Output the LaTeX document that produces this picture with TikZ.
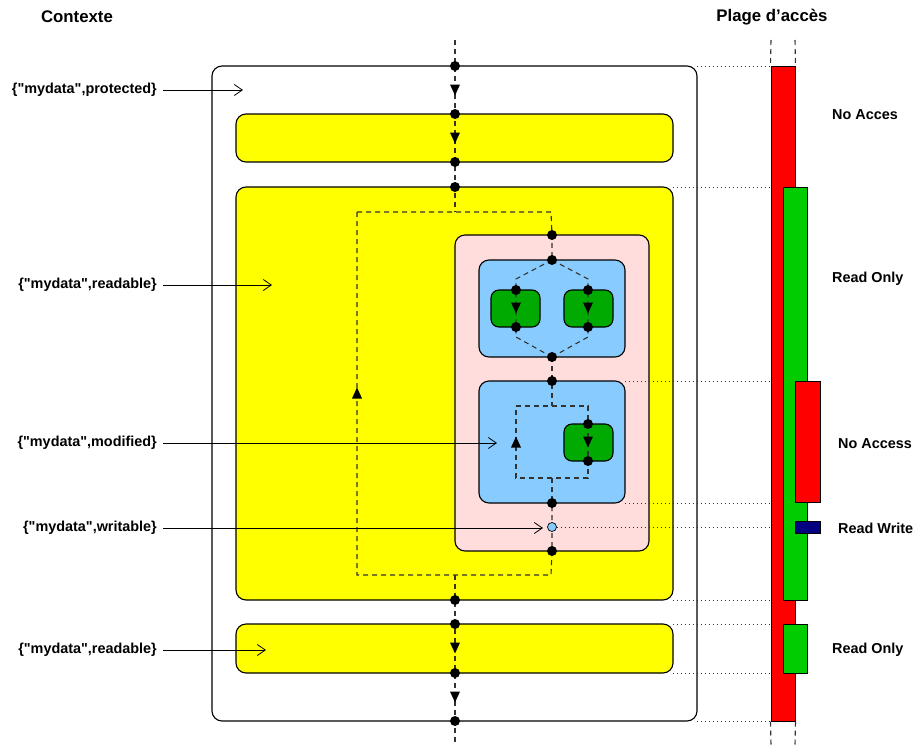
\documentclass[tikz,border=0pt]{standalone}
\usepackage{fontspec}
\setmainfont{Liberation Sans}[Ligatures=TeXOff]
\usetikzlibrary{arrows.meta}
\pgfdeclarelayer{bg}
\pgfdeclarelayer{mid}
\pgfsetlayers{bg,mid,main}
\definecolor{yel}{HTML}{FFFF00}
\definecolor{redbar}{HTML}{FF0000}
\definecolor{pinkbg}{HTML}{FFDDDD}
\definecolor{bluebg}{HTML}{88CCFF}
\definecolor{greenbox}{HTML}{00AA00}
\definecolor{greenbar}{HTML}{00CC00}
\definecolor{navybar}{HTML}{000080}
\begin{document}
\begin{tikzpicture}[x=1pt,y=-1pt,
 box/.style={draw=black, line width=1.1pt, rounded corners=10pt, inner sep=0pt},
 dot/.style={circle, fill=black, inner sep=0pt, minimum size=10pt},
 flow/.style={draw=black!80, dash pattern=on 5pt off 4pt, line width=1.1pt},
 guide/.style={draw=black!80, line width=0.8pt, dash pattern=on 0.8pt off 3.2pt},
 lbl/.style={font=\bfseries\fontsize{14.4}{17}\selectfont, inner sep=0pt},
 ttl/.style={font=\bfseries\fontsize{16.8}{20}\selectfont, inner sep=0pt},
 ptr/.style={draw=black, line width=0.8pt, -{Straight Barb[length=8pt,width=11pt]}},
 bar/.style={draw=black, line width=1pt, inner sep=0pt},
 tri/.pic={\fill[black] (-5,-5.5) -- (5,-5.5) -- (0,5.5) -- cycle;}
]
\useasboundingbox (0,0) rectangle (916,745);

% titles
\node[ttl] (tctx) at (77,17) {Contexte};
\node[ttl] (tplg) at (772,17) {Plage d’accès};

% boxes
\begin{pgfonlayer}{bg}
\node[box, minimum width=485pt, minimum height=655pt] (outer) at (454.5,393.5) {};
\node[box, fill=yel, minimum width=437pt, minimum height=48pt] (ytop) at (454.5,138) {};
\node[box, fill=yel, minimum width=437pt, minimum height=413pt] (ybig) at (454.5,393.5) {};
\node[box, fill=yel, minimum width=437pt, minimum height=49pt] (ybot) at (454.5,648.5) {};
\node[box, fill=pinkbg, minimum width=194pt, minimum height=316pt] (pink) at (552,393) {};
\node[box, fill=bluebg, minimum width=146pt, minimum height=97pt] (blueA) at (552,308.5) {};
\node[box, fill=bluebg, minimum width=146pt, minimum height=122pt] (blueB) at (552,442) {};
\node[box, fill=greenbox, rounded corners=8pt, minimum width=49pt, minimum height=37pt] (gA) at (515.5,308.5) {};
\node[box, fill=greenbox, rounded corners=8pt, minimum width=49pt, minimum height=37pt] (gB) at (588.5,308.5) {};
\node[box, fill=greenbox, rounded corners=8pt, minimum width=49pt, minimum height=37pt] (gC) at (588.5,442.5) {};
\end{pgfonlayer}

% dots
\node[dot] (d1) at (455,66) {};
\node[dot] (d2) at (455,114) {};
\node[dot] (d3) at (455,162) {};
\node[dot] (d4) at (455,187) {};
\node[dot] (d5) at (455,600) {};
\node[dot] (d6) at (455,624) {};
\node[dot] (d7) at (455,673) {};
\node[dot] (d8) at (455,721) {};
\node[dot] (p1) at (552,235) {};
\node[dot] (b1t) at (552,260) {};
\node[dot] (g1t) at (516,290) {};
\node[dot] (g1b) at (516,327) {};
\node[dot] (g2t) at (588,290) {};
\node[dot] (g2b) at (588,327) {};
\node[dot] (b1b) at (552,357) {};
\node[dot] (b2t) at (552,381) {};
\node[dot] (g3t) at (588,424) {};
\node[dot] (g3b) at (588,461) {};
\node[dot] (b2b) at (552,503) {};
\node[circle, draw=black, line width=0.7pt, fill=bluebg, inner sep=0pt, minimum size=9pt] (circ) at (552,527) {};
\node[dot] (p2) at (552,551) {};

\coordinate (top) at (455,40);
\coordinate (bot) at (455,745);

% flow lines
\begin{pgfonlayer}{mid}
\draw[flow] (top) -- (d1.center) -- (d2.center) -- (d3.center) -- (d4.center) -- (455,212);
\draw[flow] (357,212) -- (551,212) -- (p1.center) -- (b1t.center);
\draw[flow] (357,212) -- (357,575) -- (551,575) -- (p2.center) -- (circ.center) -- (b2b.center);
\draw[flow] (455,575) -- (d5.center) -- (d6.center) -- (d7.center) -- (d8.center) -- (bot);
\draw[flow] (b1t.center) -- (516,279) -- (g1t.center) -- (g1b.center) -- (516,337) -- (b1b.center);
\draw[flow] (b1t.center) -- (588,279) -- (g2t.center) -- (g2b.center) -- (588,337) -- (b1b.center);
\draw[flow] (b1b.center) -- (b2t.center) -- (552,406);
\draw[flow] (516,406) -- (588,406) -- (g3t.center) -- (g3b.center) -- (588,478) -- (516,478) -- cycle;
\draw[flow] (552,478) -- (b2b.center);
% guides
\draw[guide] (697,66) -- (771,66);
\draw[guide] (673,187) -- (771,187);
\draw[guide] (625,381) -- (795,381);
\draw[guide] (625,503) -- (795,503);
\draw[guide] (circ.east) -- (795,527);
\draw[guide] (673,600) -- (771,600);
\draw[guide] (673,624) -- (771,624);
\draw[guide] (673,673) -- (771,673);
\draw[guide] (697,721) -- (771,721);
\end{pgfonlayer}

% arrowheads on flows
\pic at (455,90) {tri};
\pic at (455,138) {tri};
\pic at (455,648) {tri};
\pic at (455,697) {tri};
\pic[rotate=180] at (357,393) {tri};
\pic at (516,308) {tri};
\pic at (588,308) {tri};
\pic at (588,442) {tri};
\pic[rotate=180] at (516,442) {tri};

% left labels
\node[lbl, anchor=east] (l1) at (157,90) {\{"mydata",protected\}};
\node[lbl, anchor=east] (l2) at (157,285) {\{"mydata",readable\}};
\node[lbl, anchor=east] (l3) at (157,443) {\{"mydata",modified\}};
\node[lbl, anchor=east] (l4) at (157,528) {\{"mydata",writable\}};
\node[lbl, anchor=east] (l5) at (157,650) {\{"mydata",readable\}};
\coordinate (a1) at (243,90);
\coordinate (a2) at (272,285);
\coordinate (a3) at (497,443);
\coordinate (a4) at (543,528);
\coordinate (a5) at (266,650);
\draw[ptr] ([xshift=6pt]l1.east) -- (a1);
\draw[ptr] ([xshift=6pt]l2.east) -- (a2);
\draw[ptr] ([xshift=6pt]l3.east) -- (a3);
\draw[ptr] ([xshift=6pt]l4.east) -- (a4);
\draw[ptr] ([xshift=6pt]l5.east) -- (a5);

% access bars
\node[bar, fill=redbar, minimum width=24pt, minimum height=655pt] (rmain) at (783,393.5) {};
\node[bar, fill=greenbar, minimum width=24pt, minimum height=413pt] (gmain) at (795,393.5) {};
\node[bar, fill=redbar, minimum width=25pt, minimum height=121pt] (rsmall) at (807.5,441.5) {};
\node[bar, fill=navybar, minimum width=25pt, minimum height=12pt] (navy) at (807.5,527) {};
\node[bar, fill=greenbar, minimum width=24pt, minimum height=49pt] (gsmall) at (795,648.5) {};
\draw[flow] (771,40) -- (rmain.north west);
\draw[flow] (795,40) -- (rmain.north east);
\draw[flow] (rmain.south west) -- (771,745);
\draw[flow] (rmain.south east) -- (795,745);

% right labels
\node[lbl, anchor=west] (r1) at (832,115) {No Acces};
\node[lbl, anchor=west] (r2) at (832,279) {Read Only};
\node[lbl, anchor=west] (r3) at (838,444) {No Access};
\node[lbl, anchor=west] (r4) at (838,528) {Read Write};
\node[lbl, anchor=west] (r5) at (832,650) {Read Only};
\end{tikzpicture}
\end{document}
